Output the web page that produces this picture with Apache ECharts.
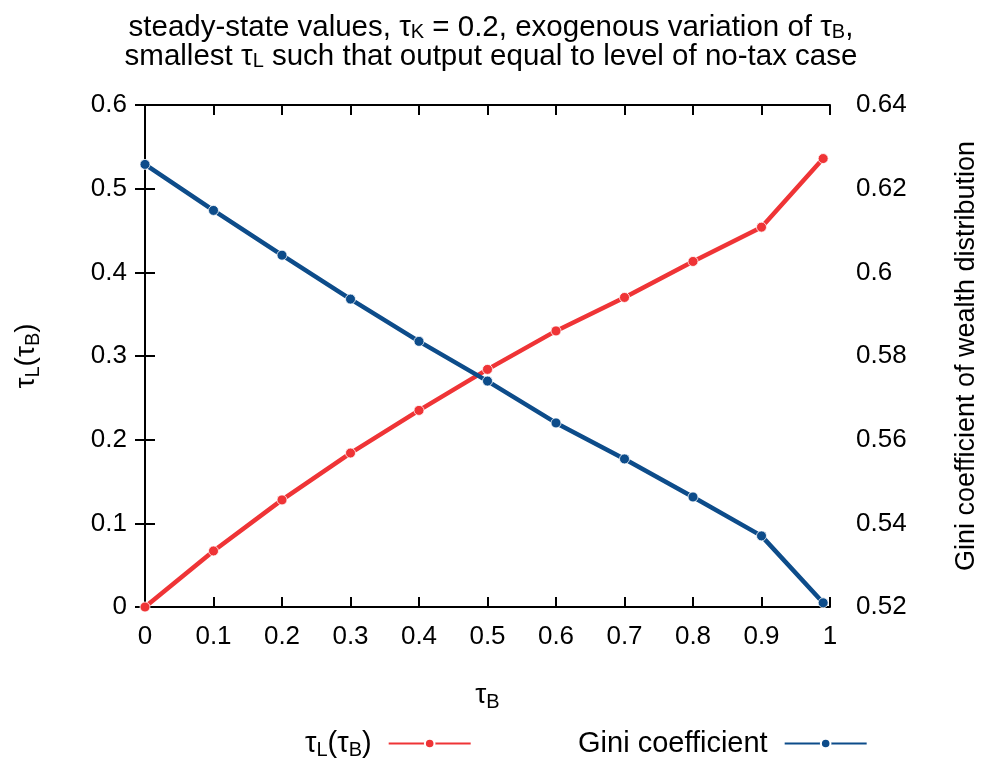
<!DOCTYPE html>
<html>
<head>
<meta charset="utf-8">
<script src="https://cdn.jsdelivr.net/npm/echarts@6/dist/echarts.min.js"></script>
<style>html,body{margin:0;padding:0;background:#fff}#c{width:982px;height:760px}</style>
</head>
<body>
<div id="c"></div>
<script>
var tauB = [0, 0.1, 0.2, 0.3, 0.4, 0.5, 0.6, 0.7, 0.8, 0.9, 0.99];
var tauL = [0, 0.067, 0.128, 0.184, 0.235, 0.284, 0.330, 0.370, 0.413, 0.454, 0.536];
var gini = [0.6258, 0.6148, 0.6041, 0.5936, 0.5835, 0.5740, 0.5640, 0.5554, 0.5463, 0.5370, 0.5210];
var xTicks = {min: 0, max: 1, interval: 0.1};
var yLeftTicks = {min: 0, max: 0.6, interval: 0.1};
var yRightTicks = {min: 0.52, max: 0.64, interval: 0.02};

var FONT = 'Liberation Sans';
var FS = 26;
var RED = '#ef3436';
var BLUE = '#0d4c8a';
function mkRich(size, sub, subLH) {
  return {
    n: {fontFamily: FONT, fontSize: size, color: '#000', lineHeight: size + 5, fontWeight: 'normal'},
    s: {fontFamily: FONT, fontSize: sub, color: '#000', lineHeight: subLH, verticalAlign: 'bottom', fontWeight: 'normal'},
    g: {width: 12}
  };
}
function pairs(xs, ys) { return xs.map(function (x, i) { return [x, ys[i]]; }); }
function axisBase() {
  return {
    axisLine: {show: true, lineStyle: {color: '#000', width: 2}},
    axisTick: {show: true, inside: true, length: 10, lineStyle: {color: '#000', width: 2}},
    splitLine: {show: false},
    axisLabel: {fontFamily: FONT, fontSize: FS, color: '#000', margin: 17}
  };
}
var xMain = Object.assign(axisBase(), {
  type: 'value', position: 'bottom', min: xTicks.min, max: xTicks.max, interval: xTicks.interval,
  name: '{n|τ}{s|B}', nameLocation: 'middle', nameGap: 72,
  nameTextStyle: {rich: mkRich(28, 20, 14)}
});
xMain.axisLabel.formatter = function (v) { return String(Math.round(v * 10) / 10); };
var xTop = Object.assign(axisBase(), {
  type: 'value', position: 'top', min: xTicks.min, max: xTicks.max, interval: xTicks.interval
});
xTop.axisLabel = {show: false};
var yLeft = Object.assign(axisBase(), {
  type: 'value', position: 'left', min: yLeftTicks.min, max: yLeftTicks.max, interval: yLeftTicks.interval,
  name: '{n|τ}{s|L}{n|(τ}{s|B}{n|)}', nameLocation: 'middle', nameGap: 102, nameRotate: 90,
  nameTextStyle: {rich: mkRich(28, 20, 14)}
});
yLeft.axisLabel.margin = 18;
yLeft.axisLabel.formatter = function (v) { return String(Math.round(v * 10) / 10); };
var yRight = Object.assign(axisBase(), {
  type: 'value', position: 'right', min: yRightTicks.min, max: yRightTicks.max, interval: yRightTicks.interval,
  name: 'Gini coefficient of wealth distribution', nameLocation: 'middle', nameGap: 123, nameRotate: 90,
  nameTextStyle: {fontFamily: FONT, fontSize: 27, color: '#000'}
});
yRight.axisLabel.margin = 26;
yRight.axisLabel.formatter = function (v) { return String(Math.round(v * 100) / 100); };

function legend(name, left) {
  return {
    left: left, top: 724, align: 'right', itemWidth: 82, itemHeight: 12,
    data: [name],
    formatter: function (n) {
      return n === 'tauL' ? '{n|τ}{s|L}{n|(τ}{s|B}{n|)}{g|}' : '{n|Gini coefficient}{g|}';
    },
    textStyle: {rich: mkRich(29, 20, 14)}
  };
}

var chart = echarts.init(document.getElementById('c'), null, {renderer: 'canvas'});
chart.setOption({
  backgroundColor: '#fff',
  animation: false,
  title: {
    text: '{n|steady-state values, τ}{s|K}{n| = 0.2, exogenous variation of τ}{s|B}{n|,}\n{n|smallest τ}{s|L}{n| such that output equal to level of no-tax case}',
    left: 'center', top: 8,
    textStyle: {fontWeight: 'normal', rich: {
      n: {fontFamily: FONT, fontSize: 29.5, color: '#000', lineHeight: 29, fontWeight: 'normal'},
      s: {fontFamily: FONT, fontSize: 20, color: '#000', lineHeight: 10, verticalAlign: 'bottom', fontWeight: 'normal'}
    }}
  },
  legend: [legend('tauL', 300), legend('gini', 573)],
  grid: {left: 145, right: 152, top: 105, bottom: 153, containLabel: false, outerBoundsMode: 'none'},
  xAxis: [xMain, xTop],
  yAxis: [yLeft, yRight],
  series: [
    {name: 'tauL', type: 'line', xAxisIndex: 0, yAxisIndex: 0, data: pairs(tauB, tauL),
     symbol: 'circle', symbolSize: 10, lineStyle: {color: RED, width: 4.5},
     itemStyle: {color: RED, borderColor: '#fff', borderWidth: 0.8}},
    {name: 'gini', type: 'line', xAxisIndex: 0, yAxisIndex: 1, data: pairs(tauB, gini),
     symbol: 'circle', symbolSize: 10, lineStyle: {color: BLUE, width: 4.5},
     itemStyle: {color: BLUE, borderColor: '#fff', borderWidth: 0.8}}
  ]
});
</script>
</body>
</html>
